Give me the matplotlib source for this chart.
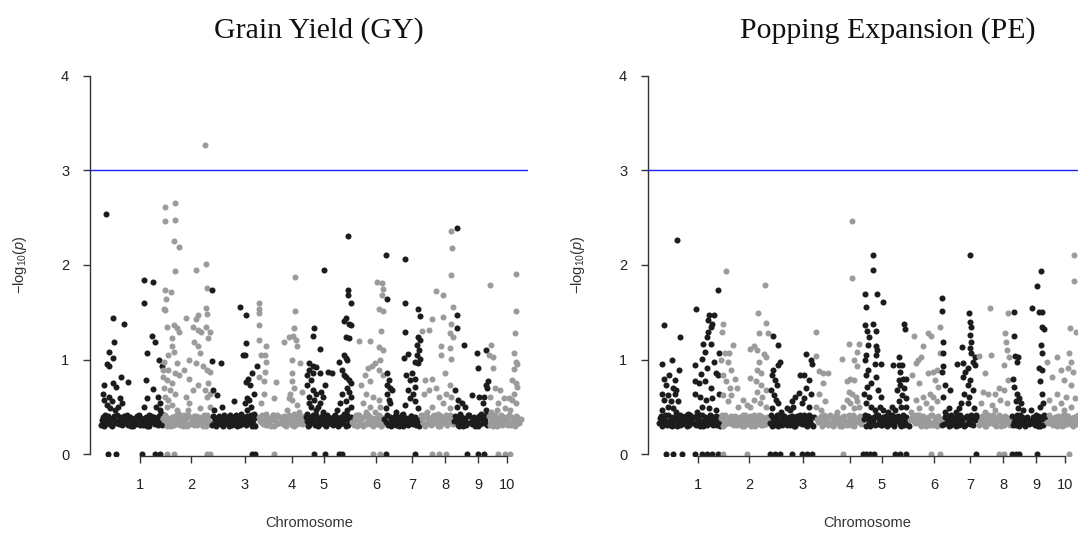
import matplotlib.pyplot as plt
import numpy as np

plt.rcParams['font.family'] = ['Liberation Sans', 'DejaVu Sans']
plt.rcParams['mathtext.fontset'] = 'custom'
plt.rcParams['mathtext.rm'] = 'Liberation Sans'
plt.rcParams['mathtext.it'] = 'Liberation Sans:italic'

# chromosome blocks along the genome (cumulative position) and their colours
block_edges = [10, 72.5, 121, 167, 214.5, 239, 261.5, 293.5, 330, 363.5, 380, 398, 433]
DARK = '#1c1c1c'
LIGHT = '#9b9b9b'
block_colours = [DARK, LIGHT, DARK, LIGHT, DARK, DARK, LIGHT, DARK, LIGHT, DARK, DARK, LIGHT]

chrom_ticks = [50, 101, 155, 202, 234, 286, 322, 355, 388, 417]
chrom_labels = ['1', '2', '3', '4', '5', '6', '7', '8', '9', '10']
threshold = 3

# marker positions shared by both traits (the dense band of non-significant SNPs)
band_pos = [11, 13, 14, 16, 18, 20, 22, 23, 25, 27,
            29, 31, 32, 34, 36, 38, 40, 41, 43, 45,
            47, 49, 50, 52, 54, 56, 58, 59, 61, 63,
            65, 67, 68, 70, 72, 74, 76, 77, 79, 81,
            83, 85, 86, 88, 90, 92, 94, 95, 97, 99,
            101, 103, 104, 106, 108, 110, 112, 113, 115, 117,
            119, 122, 124, 125, 127, 129, 131, 133, 134, 136,
            138, 140, 142, 143, 145, 147, 149, 151, 152, 154,
            156, 158, 160, 161, 163, 165, 169, 171, 173, 175,
            176, 178, 180, 182, 184, 185, 187, 189, 191, 193,
            194, 196, 198, 200, 202, 203, 205, 207, 209, 211,
            213, 216, 218, 220, 221, 223, 225, 227, 229, 230,
            232, 234, 236, 238, 239, 241, 243, 245, 247, 248,
            250, 252, 254, 256, 257, 259, 261, 264, 266, 268,
            270, 271, 273, 275, 277, 279, 280, 282, 284, 286,
            288, 289, 291, 293, 296, 298, 300, 302, 303, 305,
            307, 309, 311, 312, 314, 316, 318, 320, 321, 323,
            325, 327, 329, 332, 334, 336, 338, 339, 341, 343,
            345, 347, 348, 350, 352, 354, 356, 357, 359, 361,
            363, 365, 367, 369, 371, 372, 374, 376, 378, 381,
            383, 385, 387, 389, 390, 392, 394, 396, 400, 402,
            404, 406, 407, 409, 411, 413, 415, 416, 418, 420,
            422, 424, 425, 427, 429, 431]
band_pos2 = [12, 14, 15, 17, 19, 21, 23, 24, 26, 28,
             30, 32, 33, 35, 37, 39, 41, 42, 44, 46,
             48, 50, 51, 53, 55, 57, 59, 60, 62, 64,
             66, 68, 69, 71, 73, 75, 77, 78, 80, 82,
             84, 86, 87, 89, 91, 93, 95, 96, 98, 100,
             102, 104, 105, 107, 109, 111, 113, 114, 116, 118,
             120, 123, 125, 126, 128, 130, 132, 134, 135, 137,
             139, 141, 143, 144, 146, 148, 150, 152, 153, 155,
             157, 159, 161, 162, 164, 166, 170, 172, 174, 176,
             177, 179, 181, 183, 185, 186, 188, 190, 192, 194,
             195, 197, 199, 201, 203, 204, 206, 208, 210, 212,
             214, 217, 219, 221, 222, 224, 226, 228, 230, 231,
             233, 235, 237, 238, 240, 242, 244, 246, 248, 249,
             251, 253, 255, 257, 258, 260, 262, 265, 267, 269,
             271, 272, 274, 276, 278, 280, 281, 283, 285, 287,
             289, 290, 292, 294, 297, 299, 301, 303, 304, 306,
             308, 310, 312, 313, 315, 317, 319, 321, 322, 324,
             326, 328, 331, 333, 335, 337, 339, 340, 342, 344,
             346, 348, 349, 351, 353, 355, 357, 358, 360, 362,
             364, 366, 368, 370, 372, 373, 375, 377, 379, 382,
             384, 386, 388, 390, 391, 393, 395, 397, 399, 401,
             403, 405, 407, 408, 410, 412, 414, 416, 417, 419,
             421, 423, 425, 426, 428, 430]

# -log10(p) of the band markers, in hundredths
gy_band = [31, 39, 35, 32, 40, 36, 30, 38, 34, 41,
           32, 37, 33, 40, 35, 31, 39, 36, 30, 38,
           34, 41, 31, 37, 33, 39, 35, 30, 40, 36,
           32, 38, 34, 41, 31, 36, 39, 33, 37, 30,
           35, 40, 32, 38, 31, 36, 41, 34, 30, 39,
           33, 37, 31, 40, 35, 32, 38, 30, 36, 41,
           34, 31, 39, 35, 32, 40, 37, 30, 38, 33,
           36, 41, 31, 39, 34, 30, 37, 32, 40, 35,
           31, 38, 33, 41, 36, 30, 39, 34, 32, 37,
           40, 31, 35, 38, 30, 36, 41, 33, 39, 32,
           37, 30, 34, 40, 31, 38, 35, 32, 41, 36,
           33, 39, 30, 37, 34, 41, 31, 38, 35, 32,
           40, 36, 30, 39, 33, 37, 31, 41, 34, 38,
           32, 35, 40, 30, 37, 33, 39, 31, 36, 41,
           34, 38, 30, 40, 32, 36, 39, 31, 35, 37,
           33, 41, 30, 38, 34, 31, 39, 36, 32, 40,
           35, 30, 37, 41, 33, 38, 31, 36, 40, 32,
           39, 34, 30, 37, 41, 32, 38, 35, 31, 40,
           36, 33, 39, 30, 38, 34, 41, 31, 37, 35,
           32, 40, 36, 30, 39, 33, 38, 31, 41, 34,
           37, 30, 35, 40, 32, 38, 34, 41, 31, 36,
           39, 33, 30, 37, 41, 35, 32, 38, 31, 40,
           34, 36, 30, 39, 33, 37]
gy_band2 = [36, 30, 41, 34, 38, 31, 37, 40, 33, 35,
            39, 31, 36, 33, 41, 38, 30, 34, 37, 32,
            40, 35, 38, 31, 36, 30, 42, 33, 37, 39,
            35, 31, 40, 33, 38, 42, 30, 36, 34, 39,
            31, 37, 41, 33, 39, 30, 35, 38, 42, 32,
            37, 40, 34, 31, 39, 36, 33, 41, 30, 38,
            32, 40, 35, 30, 38, 33, 31, 41, 36, 39,
            30, 34, 38, 32, 41, 36, 31, 39, 33, 37,
            40, 33, 36, 30, 31, 39, 35, 42, 37, 31,
            34, 38, 30, 41, 36, 32, 33, 39, 35, 40,
            31, 38, 41, 33, 36, 30, 39, 34, 37, 32,
            40, 35, 31, 39, 36, 33, 42, 30, 38, 34,
            37, 31, 41, 34, 38, 32, 40, 35, 30, 36,
            39, 33, 37, 41, 31, 36, 34, 38, 30, 42,
            37, 31, 39, 33, 41, 34, 36, 30, 38, 32,
            40, 35, 31, 37, 42, 33, 30, 38, 36, 31,
            39, 34, 41, 30, 35, 37, 32, 40, 34, 38,
            31, 36, 42, 33, 30, 39, 35, 38, 32, 41,
            37, 30, 34, 40, 33, 36, 31, 39, 42, 34,
            35, 38, 31, 41, 36, 30, 37, 33, 40, 32,
            39, 34, 30, 38, 42, 33, 36, 31, 40, 35,
            30, 41, 36, 33, 38, 31, 39, 34, 37, 42,
            31, 38, 35, 40, 33, 36]
pe_band = [33, 40, 30, 37, 35, 41, 31, 38, 34, 39,
           30, 36, 41, 32, 38, 34, 40, 31, 37, 33,
           39, 32, 36, 30, 41, 34, 38, 31, 35, 40,
           31, 37, 33, 39, 30, 41, 35, 32, 38, 36,
           40, 34, 31, 37, 33, 39, 30, 36, 41, 32,
           38, 30, 35, 41, 32, 37, 34, 40, 31, 36,
           39, 33, 30, 38, 35, 41, 32, 36, 31, 40,
           34, 37, 31, 39, 33, 30, 40, 35, 38, 32,
           41, 31, 36, 33, 39, 30, 37, 34, 40, 32,
           35, 38, 31, 41, 34, 30, 36, 39, 33, 37,
           30, 40, 35, 32, 38, 31, 41, 34, 36, 39,
           32, 37, 30, 40, 33, 38, 35, 31, 39, 41,
           36, 31, 38, 34, 30, 41, 37, 33, 39, 35,
           40, 32, 36, 31, 38, 34, 30, 39, 35, 41,
           33, 37, 30, 40, 36, 32, 38, 31, 41, 34,
           39, 30, 35, 37, 32, 41, 33, 38, 31, 36,
           34, 40, 31, 38, 35, 30, 39, 33, 37, 41,
           31, 36, 39, 32, 40, 34, 30, 38, 35, 37,
           41, 33, 30, 37, 35, 39, 31, 40, 34, 32,
           38, 31, 36, 41, 30, 35, 39, 33, 37, 32,
           35, 39, 31, 34, 40, 30, 37, 41, 33, 36,
           32, 38, 35, 30, 39, 33, 41, 31, 36, 40,
           37, 31, 34, 39, 32, 36]
pe_band2 = [38, 32, 36, 41, 31, 34, 39, 30, 37, 42,
            35, 31, 38, 33, 40, 30, 36, 41, 34, 39,
            31, 37, 42, 35, 30, 39, 33, 38, 41, 32,
            36, 40, 31, 34, 38, 30, 42, 37, 33, 39,
            32, 36, 40, 31, 38, 35, 41, 30, 34, 37,
            40, 33, 38, 30, 36, 42, 31, 39, 35, 32,
            37, 41, 34, 31, 39, 30, 36, 42, 33, 38,
            31, 39, 35, 40, 30, 37, 33, 41, 36, 34,
            38, 30, 42, 35, 31, 39, 34, 37, 30, 41,
            33, 36, 40, 32, 38, 31, 42, 35, 30, 39,
            37, 33, 31, 41, 36, 39, 30, 38, 34, 40,
            35, 41, 38, 33, 30, 36, 39, 42, 32, 37,
            31, 39, 34, 40, 36, 32, 41, 30, 37, 35,
            38, 30, 42, 34, 39, 31, 36, 40, 33, 37,
            41, 35, 32, 38, 30, 39, 34, 42, 31, 36,
            33, 40, 37, 31, 39, 35, 30, 41, 34, 38,
            30, 36, 42, 33, 38, 31, 40, 35, 32, 39,
            37, 41, 31, 36, 34, 30, 38, 42, 33, 40,
            32, 38, 35, 41, 30, 37, 33, 39, 36, 31,
            40, 34, 31, 38, 42, 32, 36, 30, 39, 35,
            33, 37, 41, 30, 35, 39, 31, 38, 34, 42,
            36, 31, 39, 33, 40, 37, 30, 35, 41, 32,
            38, 34, 30, 39, 36, 41]

# Grain Yield: markers above the band
gy_pos = [16, 22.9, 23.6, 18.7, 22.9, 16.6, 18.7, 34, 30.9, 37.5, 14.2, 22.9, 26.4, 29.8, 32.3, 12.5, 14.2, 16.6, 18.7, 20.1, 22.2, 24.6, 28.1,
          54.1, 62.8, 54.1, 56.9, 61.8, 64.5, 55.9, 56.9, 62.8, 69, 72.2, 68, 69.8, 66.3, 54.1, 47.2, 69.8, 71.5,
          75, 75, 85.4, 85.4, 83.6, 88.9, 84.7, 75, 80.9, 76, 73.9, 75, 76.7, 83.6, 87.1, 88.9, 81.9, 81.9, 83.6, 78.4,
          74.3, 87.1, 78.4, 85.4, 88.9, 76.7, 81.9, 74.3, 80.2, 85.4, 75, 73.2, 73.2, 78.4, 76.7, 81.9, 87.1, 88.9,
          105.5, 116, 95.8, 106.2, 108, 116.6, 116, 116.6, 116, 102.7, 108, 111.4, 118.4, 120.1, 103.8, 108, 109.7, 99.3,
          106.2, 113.2, 116.6, 120.1, 99.3, 102.7, 108, 114.9, 118.4, 116.6, 99.3, 109.7, 120.4, 120.1, 95.8, 94, 97.5, 114.9,
          121.5, 130.5, 121.6, 122.9, 127.1, 132.3, 124, 144.4, 149.6, 155.9, 155.9, 153.1, 154.8, 166.5, 161.8, 158.3,
          155.5, 160.1, 163.5, 156.6, 159, 161.1, 156.6, 163.5, 151.4, 154.8,
          168.7, 169.4, 168.7, 169.4, 169.4, 175.7, 175, 175.7, 175, 170.5, 168.7, 173.9, 186.1, 184.3, 173.9, 170.5, 175.7, 182.6,
          193.7, 199.3, 203.5, 204.5, 204.5, 202.7, 205.9, 206.9, 201.7, 201.7, 201.7, 203.5, 199.3, 201.7, 206.9, 210.4,
          212.1, 196.5, 203.5, 208.6, 200,
          224.3, 222.5, 229.5, 219, 222.5, 226, 219, 217.3, 222.5, 229.5, 220.8, 217.3, 222.5, 226, 231.2, 232.9, 234.7,
          219, 224.3, 227.7, 220.8, 219, 226, 232.9, 217.3, 229.5, 234,
          238.2, 242.3, 248.6, 258.3, 258.3, 258.3, 260.7, 255.5, 253.8, 259, 260.7, 255.5, 259, 253.8, 255.5, 257.3,
          252, 253.8, 255.5, 259, 260.7, 257.3, 252, 259, 255.5, 250.3, 246.8, 260.7, 257.3, 253.8, 260.7,
          269.4, 279.8, 286.8, 292, 292.7, 292, 288.5, 292.7, 291, 288.5, 293, 290.2, 285, 281.6, 278.1, 274.6, 288.5,
          293, 271.2, 279.8, 276.4, 283.3, 288.5, 272.9, 279.8, 290.2, 269.4, 285, 276.4, 266,
          296.2, 297.2, 315.2, 315.2, 315.2, 313.9, 318, 328.4, 329.5, 327.7, 329.5, 326.7, 329.1, 326.7, 329.5, 325,
          328.4, 321.5, 316.3, 319.7, 325, 325, 318, 323.2, 319.7, 325, 314.6, 297.2, 298.9, 296.5, 300.3, 302.1,
          297.2, 298.9, 300.3, 305.9, 312.8, 328.4, 295.5,
          331.5, 338.9, 341.6, 345.8, 352.8, 352.8, 351, 351, 359.7, 361.4, 362.1, 361.4, 363.2, 361.4, 359.7, 363.2,
          361.4, 342.3, 354.5, 335.4, 338.9, 333.7, 345.8, 349.3, 356.2, 359.7, 361.4, 342.3, 352.8, 359.7, 337.1, 347.5,
          366.6, 366.6, 366.6, 373.6, 364.9, 368.4, 371.8, 366.6, 375.3, 370.1, 378.8, 386.8, 387.5, 382.3, 389.2,
          392.7, 396.2, 397.9, 396.2, 397.2, 394.4, 395.5, 390.9,
          399.6, 400.7, 399, 403.1, 403.1, 404.9, 410, 399.6, 413.5, 418.7, 415.2, 408.3, 425.6, 426.4, 424.6, 423.9,
          426.4, 427.4, 423.9, 422.2, 425.6, 427.4, 423.9, 421.5, 425.6, 419.8, 401.3, 406.6]
gy_logp = [2.54, 1.44, 1.19, 1.08, 1.02, 0.95, 0.93, 1.38, 0.82, 0.76, 0.73, 0.75, 0.71, 0.59, 0.54, 0.64, 0.57, 0.52, 0.61, 0.49, 0.56, 0.47, 0.50,
           1.84, 1.82, 1.60, 1.07, 1.25, 1.19, 0.79, 0.59, 0.69, 1.00, 0.93, 0.61, 0.54, 0.50, 0.50, 0.40, 0.47, 0.43,
           2.61, 2.46, 2.65, 2.48, 2.25, 2.19, 1.94, 1.74, 1.71, 1.64, 1.54, 1.52, 1.35, 1.37, 1.33, 1.29, 1.23, 1.14, 1.08, 1.05,
           0.98, 0.96, 0.89, 0.86, 0.84, 0.79, 0.75, 0.70, 0.68, 0.64, 0.61, 0.89, 0.82, 0.57, 0.50, 0.52, 0.47, 0.43,
           1.95, 2.01, 1.44, 1.43, 1.47, 1.76, 1.55, 1.48, 1.35, 1.35, 1.31, 1.29, 1.23, 1.29, 1.19, 1.14, 1.07, 1.00,
           0.96, 0.93, 0.89, 0.87, 0.80, 0.68, 0.73, 0.68, 0.75, 0.61, 0.54, 0.49, 0.64, 0.50, 0.61, 0.89, 0.47, 3.27,
           1.74, 0.96, 0.99, 0.68, 0.63, 0.50, 0.47, 0.56, 1.56, 1.47, 1.18, 1.05, 1.05, 0.93, 0.86, 0.80,
           0.76, 0.73, 0.64, 0.59, 0.57, 0.50, 0.47, 0.43, 0.43, 0.54,
           1.60, 1.54, 1.49, 1.37, 1.21, 1.14, 1.05, 0.98, 0.87, 1.05, 0.82, 0.77, 0.76, 0.59, 0.64, 0.54, 0.43, 0.42,
           1.19, 1.24, 1.33, 1.87, 1.51, 1.25, 1.21, 1.14, 1.00, 0.86, 0.77, 0.70, 0.59, 0.57, 0.52, 0.96,
           0.66, 0.47, 0.43, 0.45, 0.64,
           1.33, 1.25, 1.11, 0.96, 0.93, 0.92, 0.89, 0.84, 0.86, 0.86, 0.79, 0.73, 0.68, 0.64, 0.66, 0.61, 0.73,
           0.61, 0.57, 0.50, 0.50, 0.54, 0.47, 0.45, 0.43, 0.54, 1.95,
           0.87, 0.86, 0.98, 2.31, 1.74, 1.68, 1.60, 1.44, 1.41, 1.38, 1.37, 1.24, 1.23, 1.05, 1.02, 1.00,
           0.89, 0.84, 0.82, 0.79, 0.75, 0.70, 0.64, 0.66, 0.56, 0.54, 0.47, 0.50, 0.47, 0.43, 0.61,
           1.20, 1.20, 1.82, 1.81, 1.75, 1.68, 1.54, 1.51, 1.30, 1.13, 1.10, 1.00, 0.96, 0.93, 0.91, 0.84, 0.89,
           0.84, 0.73, 0.77, 0.64, 0.61, 0.57, 0.54, 0.50, 0.50, 0.40, 0.45, 0.45, 0.42,
           2.11, 1.64, 2.06, 1.60, 1.29, 1.02, 1.06, 1.53, 1.46, 1.24, 1.21, 1.15, 1.10, 1.05, 1.01, 0.98,
           0.96, 0.86, 0.84, 0.79, 0.80, 0.71, 0.68, 0.64, 0.59, 0.56, 0.52, 0.86, 0.79, 0.73, 0.70, 0.68,
           0.64, 0.57, 0.54, 0.45, 0.43, 0.49, 0.49,
           1.30, 1.31, 1.43, 1.73, 1.68, 1.45, 1.14, 1.05, 1.12, 1.89, 2.18, 2.36, 1.56, 1.38, 1.28, 1.24,
           1.01, 0.80, 0.86, 0.79, 0.68, 0.64, 0.70, 0.61, 0.64, 0.73, 0.61, 0.50, 0.54, 0.49, 0.45, 0.43,
           2.39, 1.47, 1.33, 1.16, 0.68, 0.57, 0.54, 0.50, 0.50, 0.43, 0.42, 1.07, 0.91, 0.63, 0.61,
           0.54, 1.10, 0.77, 0.73, 0.70, 0.61, 0.47, 0.43,
           1.79, 1.15, 1.05, 1.03, 0.91, 0.70, 0.68, 0.61, 0.59, 0.59, 0.49, 0.54, 1.91, 1.51, 1.28, 1.07,
           0.98, 0.95, 0.90, 0.79, 0.75, 0.71, 0.64, 0.57, 0.54, 0.47, 0.45, 0.47]
# markers with p = 1
gy_zero_pos = [17.7, 26.4, 52.4, 64.5, 69.8, 76.7, 83.6, 116.6, 120.1, 161.8, 165.3, 184.3, 224.3, 234.7,
               248.6, 252, 283.3, 290.2, 295.5, 325, 342.3, 349.3, 356.2, 377, 387.5, 394.4, 408.3, 415.2, 420]

# Popping Expansion: markers above the band
pe_pos = [29.2, 16.1, 32.3, 13.7, 24.1, 31, 16.1, 21.3, 26.5, 17.9, 24.8, 28.2, 14.4, 19.6, 26.5, 16.1, 23, 29.9, 19.6, 24.8, 14.4, 28.2,
          48.2, 47.2, 54.1, 53, 56.8, 54.8, 63.4, 58.6, 60.3, 62.7, 60.3, 64.4, 66.1, 61, 69.6, 71.3, 66.1, 59.2, 67.9, 69.6,
          46.5, 50.6, 56.8, 62.7, 47.2, 52.3, 57.5, 64.4, 70.6, 54.1, 61, 67.9, 48.9, 40.3,
          78.2, 75.4, 74.1, 85.1, 76.5, 81, 73, 80, 83.4, 74.8, 86.8, 78.2, 81.7, 88.6, 74.8, 83.4, 80, 95.4, 90.3, 98.9,
          117.2, 109.9, 117.9, 111, 119.6, 102.3, 105.8, 109.2, 116.1, 117.9, 111, 108.6, 112.7, 102.3, 107.5, 112.7,
          117.9, 109.2, 114.4, 105.8, 112, 117.9, 102.3,
          125.4, 129.9, 124.8, 123.7, 126.5, 129.2, 131.7, 130, 123, 125.8, 128.2, 129.9, 123.7, 133.4, 138.6, 143.7,
          147.2, 150.6, 152.3, 155.8, 157.5, 162.7, 164.4, 160.9, 157.5, 162.7, 154.1, 161, 155.8, 145.4, 142,
          167.9, 167.9, 171.3, 174.8, 179.9, 175.4, 171.3, 176.5, 167.9, 173,
          194.4, 201.3, 204.1, 204.1, 205.8, 208.6, 209.2, 211, 202.3, 198.9, 205.8, 200.6, 204.1, 207.5, 198.9, 202.3,
          209.2, 195.4, 205.8, 211, 188.6,
          216.8, 217.9, 217.2, 218.9, 221.3, 219.6, 217.9, 216.8, 219.6, 217.9, 223, 218.9, 216.1, 221.3, 217.9, 223,
          224.8, 224.8, 224.8, 228.2, 228.9, 235.1, 228.2, 229.2, 228.2, 226.5, 233.4, 228.2, 229.9, 233.4, 231.7, 226.5, 235.1,
          245.4, 243.7, 250.6, 250.6, 254.1, 252.3, 255.8, 256.5, 254.8, 250.6, 257.5, 252.3, 255.8, 248.9, 254.1, 257.5,
          250.6, 253.4, 247.2, 258.2, 240.3,
          266.1, 274.8, 279.9, 283.4, 273, 269.6, 267.9, 264.4, 271.3, 279.9, 285.1, 291.5, 292, 288.6, 286.8, 290.3,
          281.6, 274.8, 285.1, 267.9, 278.2, 288.6, 271.3, 283.4, 262.7,
          293.7, 293.7, 295.4, 294.8, 295.4, 293.7, 297.2, 302.3, 295.4, 300.6, 297.2,
          314.4, 309.2, 315.4, 316.8, 315.4, 319.6, 321.3, 322.3, 323, 322.3, 323, 322.3, 323, 326.5, 324.8, 327.2,
          322.3, 319.6, 324.8, 316.1, 321.3, 312.7, 319.6, 311, 325.8, 307.5, 322.3,
          330.6, 336.8, 335.1, 342, 343, 340.3, 347.2, 350.6, 355.8, 356.8, 357.5, 355.8, 360, 359.2, 361, 360.3,
          333.4, 343.7, 352.3, 359.2, 336.8, 347.2,
          366.1, 366.1, 367.2, 368.6, 369.6, 365.1, 366.1, 368.9, 371.3, 367.9, 373, 369.6, 374.8, 384.4, 389.2,
          392.7, 391.3, 393.7, 393.7, 396.1, 392.7, 393.7, 391.3, 393.7, 392, 393.7, 392, 383.4, 395.4,
          425.8, 425.8, 422.3, 427.5, 408.6, 398.9, 421.3, 423, 419.6, 424.8, 412.7, 416.1, 404, 423, 409.2, 417.9,
          426.5, 400.6, 412.7, 423, 405.8, 416.1]
pe_logp = [2.26, 1.37, 1.24, 0.95, 1.00, 0.89, 0.80, 0.84, 0.79, 0.73, 0.70, 0.68, 0.64, 0.63, 0.64, 0.57, 0.56, 0.56, 0.50, 0.49, 0.47, 0.45,
           1.54, 0.94, 1.01, 0.85, 1.08, 1.17, 1.17, 1.24, 1.29, 1.35, 1.42, 1.38, 1.47, 1.47, 1.74, 1.07, 0.98, 0.91, 0.86, 0.84,
           0.77, 0.75, 0.77, 0.70, 0.64, 0.61, 0.57, 0.59, 0.64, 0.50, 0.49, 0.47, 0.45, 0.43,
           1.94, 1.38, 1.29, 1.16, 1.07, 1.07, 1.00, 0.98, 0.89, 0.84, 0.80, 0.77, 0.70, 0.70, 0.63, 0.63, 0.56, 0.57, 0.50, 0.52,
           1.79, 1.49, 1.39, 1.28, 1.28, 1.11, 1.14, 1.10, 1.06, 1.03, 0.98, 0.89, 0.86, 0.81, 0.77, 0.73,
           0.68, 0.66, 0.61, 0.57, 0.54, 0.50, 0.50,
           1.25, 1.15, 0.89, 0.84, 0.79, 0.73, 0.98, 0.94, 0.68, 0.63, 0.57, 0.54, 0.49, 0.45, 0.49, 0.56,
           0.61, 0.65, 0.84, 0.84, 1.06, 1.00, 0.95, 0.79, 0.70, 0.64, 0.54, 0.50, 0.59, 0.50, 0.47,
           1.29, 1.04, 0.88, 0.86, 0.86, 0.75, 0.64, 0.56, 0.50, 0.47,
           1.01, 1.17, 2.46, 1.86, 1.00, 1.08, 0.93, 1.17, 0.80, 0.77, 0.79, 0.66, 0.64, 0.61, 0.57, 0.54,
           0.56, 0.50, 0.49, 0.50, 0.45,
           1.69, 1.56, 1.37, 1.30, 1.24, 1.15, 1.05, 1.00, 0.89, 0.84, 0.75, 0.71, 0.64, 0.61, 0.54, 0.50,
           2.11, 1.95, 1.38, 1.30, 1.69, 1.61, 1.14, 1.10, 1.05, 0.95, 0.95, 0.82, 0.68, 0.61, 0.50, 0.47, 0.47,
           0.94, 0.50, 1.03, 0.94, 0.94, 0.87, 1.38, 1.32, 0.80, 0.79, 0.80, 0.73, 0.70, 0.68, 0.63, 0.59,
           0.56, 0.50, 0.47, 0.50, 0.45,
           1.25, 1.14, 1.28, 1.25, 1.03, 1.00, 0.96, 0.84, 0.75, 0.86, 0.87, 1.35, 1.07, 0.89, 0.79, 0.71,
           0.64, 0.61, 0.61, 0.57, 0.54, 0.56, 0.49, 0.49, 0.45,
           1.65, 1.51, 1.19, 1.07, 0.93, 0.87, 0.73, 0.68, 0.61, 0.49, 0.45,
           1.13, 0.95, 0.96, 0.87, 0.82, 0.91, 1.49, 1.40, 1.35, 1.26, 1.19, 1.12, 1.07, 1.03, 0.98, 0.94,
           0.79, 0.73, 0.68, 0.64, 0.61, 0.54, 0.54, 0.49, 0.49, 0.45, 2.11,
           1.04, 0.86, 0.66, 1.55, 1.05, 0.64, 0.64, 0.70, 0.68, 1.28, 1.19, 0.94, 1.49, 1.10, 1.03, 0.79,
           0.54, 0.52, 0.57, 0.54, 0.45, 0.47,
           1.50, 1.25, 1.04, 0.98, 1.03, 0.80, 0.71, 0.64, 0.59, 0.56, 0.54, 0.49, 0.47, 1.55, 1.78,
           1.94, 1.50, 1.50, 1.35, 1.32, 1.15, 1.07, 0.91, 0.89, 0.77, 0.64, 0.50, 0.47, 0.54,
           2.11, 1.83, 1.33, 1.29, 1.03, 0.98, 1.07, 0.98, 0.91, 0.87, 0.89, 0.79, 0.82, 0.73, 0.64, 0.61,
           0.59, 0.57, 0.54, 0.50, 0.49, 0.47]
pe_zero_pos = [17.9, 24.8, 34, 47.2, 54.1, 59.2, 64.4, 69.6, 74.8, 98.9, 122.3, 126.5, 131.7, 143.7, 154.1, 159.2,
               164.4, 195.4, 215.4, 217.9, 222.4, 225.8, 247.2, 252.3, 257.5, 283.4, 292, 328.2, 350.6, 355.8,
               364.4, 367.9, 371.3, 388.6, 421.3]

assert len(band_pos) == len(gy_band) == len(pe_band)
assert len(band_pos2) == len(gy_band2) == len(pe_band2)
assert len(gy_pos) == len(gy_logp) and len(pe_pos) == len(pe_logp)

W, H = 1078, 534
fig = plt.figure(figsize=(W / 100, H / 100), dpi=100)


def manhattan(left_px, peak_pos, peak_val, band_val, band_val2, zero_pos, title, title_x):
    pos = np.concatenate([band_pos, band_pos2, peak_pos, zero_pos]).astype(float)
    val = np.concatenate([np.array(band_val) / 100, np.array(band_val2) / 100,
                          peak_val, np.zeros(len(zero_pos))])

    ax = fig.add_axes([left_px / W, (H - 455.5) / H, 438 / W, (455.5 - 75.7) / H])
    for i in range(len(block_colours)):
        m = (pos >= block_edges[i]) & (pos < block_edges[i + 1])
        ax.scatter(pos[m], val[m], s=19, c=block_colours[i], linewidths=0, zorder=2)
    ax.axhline(threshold, color='#2020ff', lw=1, zorder=3)

    ax.set_xlim(0, 438)
    ax.set_ylim(-1.2 / 94.65, 4)
    ax.set_xticks(chrom_ticks)
    ax.set_xticklabels(chrom_labels)
    ax.set_yticks([0, 1, 2, 3, 4])
    for side in ['top', 'right']:
        ax.spines[side].set_visible(False)
    ax.spines['left'].set_bounds(0, 4)
    ax.spines['bottom'].set_bounds(chrom_ticks[0], chrom_ticks[-1])
    for side in ['left', 'bottom']:
        ax.spines[side].set_color('#333333')
        ax.spines[side].set_linewidth(1)
    ax.tick_params(axis='both', direction='out', length=5, width=1, color='#333333',
                   labelsize=10.5, labelcolor='#222222')
    ax.tick_params(axis='x', pad=11)
    ax.tick_params(axis='y', pad=10)

    fig.text((left_px - 70) / W, 1 - 265 / H, r'$-\mathrm{log}_{10}(p)$', rotation=90,
             ha='center', va='center', fontsize=10.5, color='#333333')
    fig.text((left_px + 219) / W, 1 - 523 / H, 'Chromosome', ha='center', va='center',
             fontsize=10.5, color='#333333')
    fig.text(title_x / W, 1 - 31 / H, title, ha='center', va='center',
             family='Liberation Serif', fontsize=21.5, color='#111111')
    return ax


manhattan(90, gy_pos, gy_logp, gy_band, gy_band2, gy_zero_pos, 'Grain Yield (GY)', 319)
manhattan(648, pe_pos, pe_logp, pe_band, pe_band2, pe_zero_pos, 'Popping Expansion (PE)', 888)

fig.savefig('out.png', dpi=100)
